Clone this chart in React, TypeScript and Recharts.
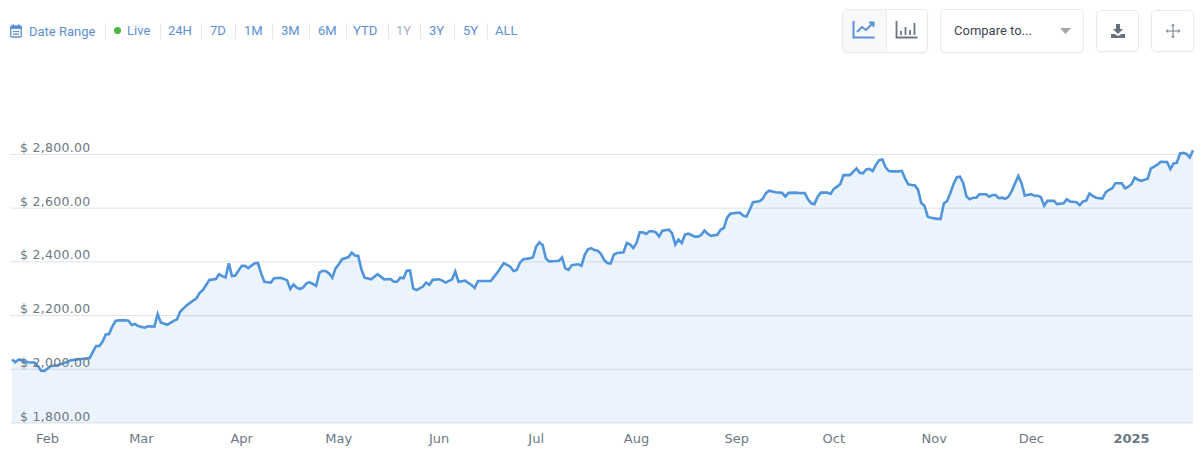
import { AreaChart, Area, XAxis, YAxis, CartesianGrid } from 'recharts';

// days counted from 21 Jan 2024
const days = [
  0, 1, 2, 3, 4, 5, 7, 8, 9, 10, 11, 12, 14, 16, 18, 20, 22, 24, 25, 26, 27, 28, 29, 30, 31, 32, 33, 35, 36, 37, 38, 39, 41, 42, 44, 45, 46, 48, 50, 51, 52, 53, 54, 56, 57, 58, 59, 60, 61, 63, 64, 65, 66, 67, 68, 69, 71, 72, 73, 75, 76, 77, 78, 80, 81, 83, 85, 86, 87, 88, 89,
  90, 91, 92, 94, 95, 96, 97, 98, 99, 100, 101, 102, 104, 105, 106, 107, 108, 109, 111, 113, 114, 115, 117, 118, 119, 120, 121, 122, 123, 124, 125, 127, 128, 129, 130, 132, 133, 134, 136, 137, 138, 140, 142, 143, 144, 146, 148, 149, 150, 151, 152, 154, 155, 156, 157, 158, 160, 161, 162, 163, 164, 165, 166, 168, 169, 170, 171, 172, 173, 175, 176, 177, 178, 179, 180, 181,
  182, 183, 184, 185, 186, 187, 189, 190, 191, 192, 193, 194, 195, 196, 197, 198, 199, 200, 201, 203, 204, 205, 206, 207, 208, 209, 210, 211, 212, 213, 214, 215, 216, 218, 219, 220, 221, 222, 224, 225, 226, 227, 228, 229, 231, 232, 233, 234, 235, 236, 238, 239, 240, 242, 243, 245, 246, 247, 248, 249, 250, 252, 253, 254, 255, 256, 257, 258, 259, 260, 261, 262, 263, 264, 265, 266, 267, 268, 269, 270, 271, 272, 274,
  275, 276, 277, 278, 279, 280, 281, 282, 283, 284, 286, 287, 288, 289, 290, 291, 292, 293, 294, 295, 296, 297, 298, 299, 301, 302, 303, 304, 305, 306, 307, 308, 309, 310, 311, 312, 313, 315, 316, 317, 318, 319, 320, 322, 323, 325, 326, 327, 329, 330, 331, 332, 333, 334, 335, 337, 338, 339, 340, 341, 343, 344, 345, 346, 347, 348, 349, 351, 352, 353, 354, 355, 357, 358, 359, 360, 361, 362, 363, 364, 365,
];

const prices = [
  2037, 2026, 2036, 2035, 2030, 2026, 2025, 2012, 1995, 1994, 2003, 2012, 2015, 2023, 2033, 2037, 2039, 2042, 2065, 2087, 2087, 2103, 2130, 2131, 2159, 2180, 2182, 2182, 2181, 2165, 2169, 2161, 2155, 2160, 2159, 2206, 2174, 2166, 2180, 2186, 2215, 2227, 2238, 2256, 2264, 2285, 2295, 2314, 2333, 2336, 2354, 2347, 2342, 2395, 2347, 2349, 2385, 2385, 2377, 2395, 2396, 2357, 2326, 2323, 2339, 2341, 2332, 2299, 2316, 2304, 2299,
  2305, 2320, 2324, 2311, 2360, 2367, 2365, 2357, 2341, 2376, 2391, 2410, 2418, 2434, 2424, 2422, 2371, 2341, 2335, 2354, 2345, 2335, 2336, 2326, 2326, 2341, 2339, 2367, 2368, 2301, 2295, 2308, 2323, 2314, 2333, 2335, 2330, 2323, 2335, 2364, 2326, 2330, 2314, 2303, 2329, 2329, 2329, 2345, 2360, 2378, 2395, 2382, 2366, 2370, 2397, 2410, 2413, 2417, 2457, 2473, 2463, 2413, 2402, 2403, 2404, 2416, 2376, 2370, 2388, 2391, 2386, 2426, 2447, 2451, 2444, 2442,
  2430, 2407, 2396, 2394, 2427, 2433, 2436, 2470, 2465, 2451, 2470, 2510, 2510, 2504, 2514, 2514, 2510, 2495, 2516, 2520, 2507, 2464, 2483, 2470, 2502, 2505, 2500, 2494, 2494, 2500, 2517, 2505, 2497, 2501, 2520, 2526, 2565, 2579, 2583, 2583, 2572, 2569, 2594, 2622, 2626, 2635, 2656, 2665, 2662, 2659, 2657, 2643, 2657, 2658, 2657, 2656, 2633, 2618, 2615, 2643, 2658, 2658, 2653, 2672, 2680, 2690, 2723, 2723, 2723, 2736, 2748, 2732, 2730, 2744, 2746, 2738, 2761, 2779, 2781, 2752, 2738, 2737, 2737,
  2739, 2711, 2689, 2686, 2685, 2670, 2619, 2609, 2569, 2564, 2560, 2560, 2618, 2626, 2656, 2690, 2715, 2717, 2693, 2643, 2633, 2639, 2639, 2652, 2652, 2643, 2649, 2649, 2637, 2639, 2635, 2643, 2664, 2693, 2720, 2693, 2647, 2652, 2646, 2646, 2641, 2609, 2627, 2627, 2615, 2618, 2633, 2625, 2622, 2611, 2625, 2628, 2655, 2646, 2639, 2636, 2659, 2668, 2673, 2693, 2693, 2674, 2680, 2689, 2714, 2706, 2702, 2710, 2748, 2755, 2762, 2773, 2772, 2746, 2767, 2769, 2804, 2806, 2802, 2789, 2816,
];

const priceTicks = [1800, 2000, 2200, 2400, 2600, 2800];
const monthTicks = [11, 40, 71, 101, 132, 162, 193, 224, 254, 285, 315, 346];
const monthLabels = ['Feb', 'Mar', 'Apr', 'May', 'Jun', 'Jul', 'Aug', 'Sep', 'Oct', 'Nov', 'Dec', '2025'];

const rangeLinks = ['24H', '7D', '1M', '3M', '6M', 'YTD', '1Y', '3Y', '5Y', 'ALL'];
const linkLeft = [168, 210, 244, 281, 318, 353, 396, 429, 463, 495];
const separators = [105, 160, 201, 235, 272, 309, 346, 388, 420, 454, 487];

const chartData = days.map((day, i) => ({ day, price: prices[i] }));

const LINK = '#5c8fd6';
const AXIS_TEXT = '#6c7883';
const AXIS_FONT = '"DejaVu Sans", Verdana, sans-serif';

function PriceTick({ y, payload }: any) {
  const label = '$ ' + payload.value.toLocaleString('en-US', { minimumFractionDigits: 2 });
  return (
    <g>
      <line x1={10} x2={12} y1={y} y2={y} stroke="#dfe3e8" />
      <text x={20} y={y - 2.5} fill={AXIS_TEXT} fontSize={12.5} fontFamily={AXIS_FONT} letterSpacing={0.3}>
        {label}
      </text>
    </g>
  );
}

function MonthTick({ x, y, payload }: any) {
  const label = monthLabels[monthTicks.indexOf(payload.value)];
  return (
    <text x={x} y={y + 12} textAnchor="middle" fill={AXIS_TEXT} fontSize={13} fontFamily={AXIS_FONT}
      fontWeight={label === '2025' ? 700 : 400}>
      {label}
    </text>
  );
}

const boxStyle: React.CSSProperties = {
  position: 'absolute', boxSizing: 'border-box', background: '#fff', border: '1px solid #e8ebee',
  borderRadius: 5, boxShadow: '0 1px 2px rgba(0,0,0,0.04)',
};

function Toolbar() {
  return (
    <div style={{ fontFamily: 'Roboto, sans-serif', fontSize: 13, color: LINK }}>
      <svg width={12} height={14} viewBox="0 0 12 14" style={{ position: 'absolute', left: 10, top: 24 }}>
        <rect x={0.7} y={2} width={10.6} height={11} rx={1.2} fill="none" stroke={LINK} strokeWidth={1.3} />
        <rect x={0.7} y={2} width={10.6} height={3} fill={LINK} />
        <rect x={2.5} y={0.3} width={1.5} height={2.5} fill={LINK} />
        <rect x={8} y={0.3} width={1.5} height={2.5} fill={LINK} />
        <rect x={3} y={7} width={6} height={1.2} fill={LINK} />
        <rect x={3} y={9.6} width={6} height={1.2} fill={LINK} />
      </svg>
      <span style={{ position: 'absolute', left: 29, top: 24 }}>Date Range</span>
      <span style={{ position: 'absolute', left: 114, top: 27, width: 7, height: 7, borderRadius: 4, background: '#4cb944' }} />
      <span style={{ position: 'absolute', left: 127, top: 23 }}>Live</span>
      {rangeLinks.map((link, i) => (
        <span key={link} style={{ position: 'absolute', left: linkLeft[i], top: 23, color: link === '1Y' ? '#a9b0b8' : LINK }}>
          {link}
        </span>
      ))}
      {separators.map((left) => (
        <span key={left} style={{ position: 'absolute', left, top: 23, width: 1, height: 16, background: '#e6e8eb' }} />
      ))}

      <div style={{ ...boxStyle, left: 842, top: 9, width: 86, height: 44 }}>
        <div style={{ position: 'absolute', left: 0, top: 0, width: 43, height: 42, background: '#f7f8fa', borderRight: '1px solid #e8ebee', borderRadius: '5px 0 0 5px' }} />
      </div>
      <svg width={24} height={20} viewBox="0 0 24 20" style={{ position: 'absolute', left: 852, top: 20 }}>
        <path d="M1.5 1v16.5h21" fill="none" stroke={LINK} strokeWidth={2} />
        <path d="M5 12l5-5 4 3 7-7M17 2.5h4.5V7" fill="none" stroke={LINK} strokeWidth={2} />
      </svg>
      <svg width={24} height={20} viewBox="0 0 24 20" style={{ position: 'absolute', left: 895, top: 20 }}>
        <path d="M1.5 1v16.5h21" fill="none" stroke="#6b7683" strokeWidth={1.8} />
        <path d="M6 15v-4M10.5 15V7M15 15v-5M19.5 15V3" fill="none" stroke="#6b7683" strokeWidth={1.8} />
      </svg>

      <div style={{ ...boxStyle, left: 940, top: 9, width: 144, height: 44 }} />
      <span style={{ position: 'absolute', left: 954, top: 23, color: '#3d4752' }}>Compare to...</span>
      <svg width={11} height={6} style={{ position: 'absolute', left: 1060, top: 28 }}>
        <path d="M0 0h11L5.5 6z" fill="#a2a6aa" />
      </svg>

      <div style={{ ...boxStyle, left: 1096, top: 10, width: 43, height: 42 }} />
      <svg width={14} height={14} viewBox="0 0 14 14" style={{ position: 'absolute', left: 1111, top: 24 }}>
        <path d="M5 0h4v5h3L7 10 2 5h3zM0 10h3.5L7 12l3.5-2H14v4H0z" fill="#66717d" />
      </svg>

      <div style={{ ...boxStyle, left: 1151, top: 10, width: 43, height: 42 }} />
      <svg width={14} height={14} viewBox="0 0 14 14" style={{ position: 'absolute', left: 1166, top: 24 }}>
        <path d="M7 0v14M0 7h14M5.3 2L7 0.5 8.7 2M5.3 12L7 13.5 8.7 12M2 5.3L0.5 7 2 8.7M12 5.3L13.5 7 12 8.7" fill="none" stroke="#6f7984" strokeWidth={1} />
      </svg>
    </div>
  );
}

export default function App() {
  return (
    <div style={{ position: 'absolute', left: 0, top: 0, width: 1200, height: 457, background: '#fff', overflow: 'hidden' }}>
      <Toolbar />
      <div style={{ position: 'absolute', left: 0, top: 0 }}>
        <AreaChart width={1200} height={457} data={chartData} margin={{ top: 127.6, right: 7, bottom: 0, left: 0 }}>
          <CartesianGrid horizontal vertical={false} stroke="#dfe3e8" horizontalValues={priceTicks} />
          <XAxis dataKey="day" type="number" domain={[0, 365]} ticks={monthTicks} tick={<MonthTick />}
            axisLine={false} tickLine={false} height={34} interval={0} />
          <YAxis type="number" domain={[1800, 2900]} ticks={priceTicks} tick={<PriceTick />}
            axisLine={false} tickLine={false} width={12} interval={0} />
          <Area type="linear" dataKey="price" stroke="#5095dc" strokeWidth={2.6} fill="#4a90e2" fillOpacity={0.11}
            isAnimationActive={false} dot={false} activeDot={false} />
        </AreaChart>
      </div>
    </div>
  );
}
